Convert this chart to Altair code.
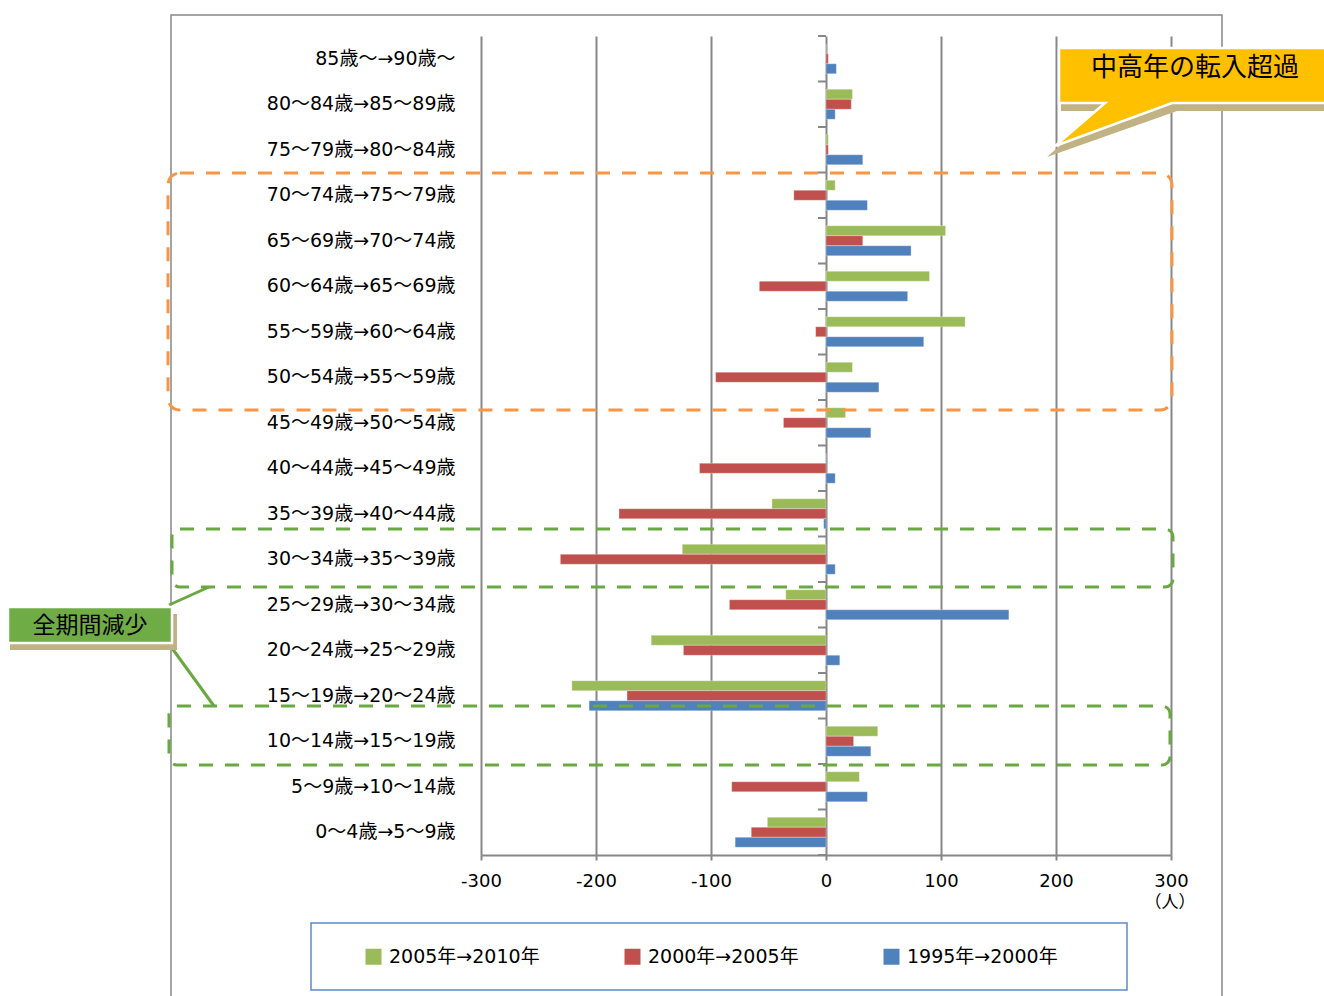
import altair as alt
import pandas as pd

FONT = "DejaVu Sans, Noto Sans CJK JP"
CJK = "Noto Sans CJK JP"

ages = ["85歳～→90歳～", "80～84歳→85～89歳", "75～79歳→80～84歳", "70～74歳→75～79歳",
        "65～69歳→70～74歳", "60～64歳→65～69歳", "55～59歳→60～64歳", "50～54歳→55～59歳",
        "45～49歳→50～54歳", "40～44歳→45～49歳", "35～39歳→40～44歳", "30～34歳→35～39歳",
        "25～29歳→30～34歳", "20～24歳→25～29歳", "15～19歳→20～24歳", "10～14歳→15～19歳",
        "5～9歳→10～14歳", "0～4歳→5～9歳"]
periods = ["2005年→2010年", "2000年→2005年", "1995年→2000年"]
colors = ["#9BBB59", "#C0504D", "#4F81BD"]
v2005_2010 = [0, 23, 2, 8, 104, 90, 121, 23, 17, 0, -47, -125, -35, -152, -221, 45, 29, -51]
v2000_2005 = [2, 22, 2, -28, 32, -58, -9, -96, -37, -110, -180, -231, -84, -124, -173, 24, -82, -65]
v1995_2000 = [9, 8, 32, 36, 74, 71, 85, 46, 39, 8, -2, 8, 159, 12, -206, 39, 36, -79]
x_ticks = [-300, -200, -100, 0, 100, 200, 300]
unit_label = "（人）"
callout_text = "中高年の転入超過"
label_text = "全期間減少"

rows = []
for p, vals in zip(periods, [v2005_2010, v2000_2005, v1995_2000]):
    for a, v in zip(ages, vals):
        rows.append({"age": a, "period": p, "value": v})
df = pd.DataFrame(rows)
one = pd.DataFrame({"k": [0]})

W, H = 690, 819
GRAY = "#878787"
ORANGE = "#F79646"
GREEN = "#6AA842"

yscale = alt.Scale(paddingInner=0, paddingOuter=0)

border = alt.Chart(one).mark_rect(fill="white", fillOpacity=0, stroke=GRAY, strokeWidth=1.5).encode(
    x=alt.value(-310), x2=alt.value(741), y=alt.value(-21), y2=alt.value(980))

bars = alt.Chart(df).mark_bar(stroke="white", strokeWidth=0.6, strokeOpacity=0.5).encode(
    y=alt.Y("age:N", sort=ages, scale=yscale,
            axis=alt.Axis(title=None, domain=False, ticks=False, labelFontSize=19, labelPadding=26,
                          labelColor="black", labelFont=FONT, labelLimit=400)),
    x=alt.X("value:Q", scale=alt.Scale(domain=[-300, 300], nice=False),
            axis=alt.Axis(values=x_ticks, grid=True, gridColor=GRAY, gridWidth=2, domainColor=GRAY,
                          domainWidth=2, tickColor=GRAY, tickWidth=2, tickSize=5, labelFontSize=18,
                          labelColor="black", labelPadding=12, labelFont=FONT, labelFlush=False,
                          labelExpr="datum.value < 0 ? '-' + abs(datum.value) : '' + datum.value",
                          title=None)),
    yOffset=alt.YOffset("period:N", sort=periods, scale=alt.Scale(paddingInner=0, paddingOuter=0.775)),
    color=alt.Color("period:N", sort=periods, scale=alt.Scale(domain=periods, range=colors),
                    legend=alt.Legend(orient="none", legendX=-117, legendY=911, direction="horizontal",
                                      title=None, symbolType="square", symbolSize=256,
                                      symbolStrokeWidth=0, labelFontSize=19, labelFont=FONT,
                                      labelColor="black", labelOffset=6, columnPadding=83,
                                      labelLimit=300, padding=0)),
)

ticks = alt.Chart(pd.DataFrame({"age": ages})).mark_rule(color=GRAY, strokeWidth=2).encode(
    y=alt.Y("age:N", sort=ages, bandPosition=0), x=alt.value(337), x2=alt.value(345))
tick_bottom = alt.Chart(one).mark_rule(color=GRAY, strokeWidth=2).encode(
    y=alt.value(H), x=alt.value(337), x2=alt.value(345))

unit = alt.Chart(one).mark_text(font=CJK, fontSize=17, color="black").encode(
    x=alt.value(689), y=alt.value(867), text=alt.value(unit_label))

def dashed_box(x1, y1, x2, y2, color, r):
    return alt.Chart(one).mark_rect(fill="white", fillOpacity=0, stroke=color, strokeWidth=3,
                                    strokeDash=[14, 12], cornerRadius=r).encode(
        x=alt.value(x1), x2=alt.value(x2), y=alt.value(y1), y2=alt.value(y2))

orange_box = dashed_box(-313, 137, 691, 374, ORANGE, 12)
green_box1 = dashed_box(-309, 493, 692, 551, GREEN, 8)
green_box2 = dashed_box(-312, 670, 689, 729, GREEN, 8)

# callout (custom symbol paths, pixel units with size=4)
callout_path = "M0,0 H280 V55 H113 L-4,98 L46,55 H0 Z"
shadow_path = "M2,8 H282 V63 H118 L-12,109 L40,63 H2 Z"
callout_shadow = alt.Chart(one).mark_point(shape=shadow_path, size=4, filled=True, fill="#C0B283",
                                           opacity=1, strokeWidth=0).encode(
    x=alt.value(578), y=alt.value(12))
callout = alt.Chart(one).mark_point(shape=callout_path, size=4, filled=True, fill="#FFC000",
                                    stroke="white", strokeWidth=2.5, opacity=1).encode(
    x=alt.value(578), y=alt.value(12))
callout_label = alt.Chart(one).mark_text(font=CJK, fontSize=26, color="black").encode(
    x=alt.value(714), y=alt.value(32), text=alt.value(callout_text))

# green label
lbl_shadow = alt.Chart(one).mark_rect(fill="#C0B283").encode(
    x=alt.value(-471), x2=alt.value(-304), y=alt.value(578), y2=alt.value(614))
lbl_box = alt.Chart(one).mark_rect(fill="#6FAC46", stroke="white", strokeWidth=2.5).encode(
    x=alt.value(-473), x2=alt.value(-309), y=alt.value(571), y2=alt.value(607))
lbl_text = alt.Chart(one).mark_text(font=CJK, fontSize=23, color="black").encode(
    x=alt.value(-391), y=alt.value(590), text=alt.value(label_text))
line1 = alt.Chart(one).mark_rule(color=GREEN, strokeWidth=3).encode(
    x=alt.value(-312), y=alt.value(569), x2=alt.value(-272), y2=alt.value(551))
line2 = alt.Chart(one).mark_rule(color=GREEN, strokeWidth=3).encode(
    x=alt.value(-312), y=alt.value(608), x2=alt.value(-267), y2=alt.value(670))

legend_box = alt.Chart(one).mark_rect(fill="white", fillOpacity=0, stroke="#5B8BC9", strokeWidth=1.5).encode(
    x=alt.value(-170), x2=alt.value(646), y=alt.value(887), y2=alt.value(954))

chart = alt.layer(
    border, bars, ticks, tick_bottom, unit, orange_box, green_box1, green_box2,
    callout_shadow, callout, callout_label, line1, line2, lbl_shadow, lbl_box, lbl_text, legend_box
).properties(
    width=W, height=H,
    padding={"left": 481, "top": 36, "right": 153, "bottom": 141},
    autosize=alt.AutoSizeParams(type="none"),
    background="white",
).configure_view(stroke=None)

chart.save("out.html", embed_options={"renderer": "svg", "actions": False})
